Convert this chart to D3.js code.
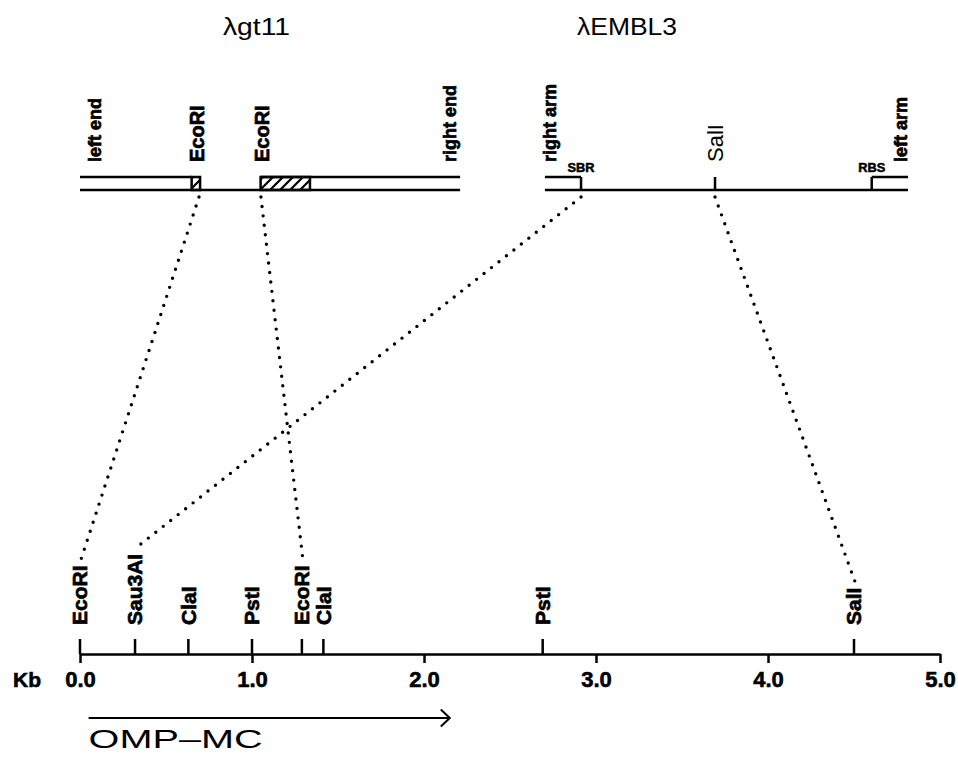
<!DOCTYPE html>
<html>
<head>
<meta charset="utf-8">
<script src="https://cdn.jsdelivr.net/npm/d3@7"></script>
<style>
  body { margin: 0; background: #fff; }
  svg { display: block; font-family: "Liberation Sans", Arial, sans-serif; }
</style>
</head>
<body>
<div id="chart"></div>
<script>
// restriction sites on the cloned fragment (kb)
const siteNames = ["EcoRI", "Sau3AI", "ClaI", "PstI", "EcoRI", "ClaI", "PstI", "SalI"];
const sitePositions = [0.0, 0.32, 0.63, 1.0, 1.29, 1.415, 2.69, 4.5];
const kbTicks = [0, 1, 2, 3, 4, 5];

// OMP-MC coding region (kb)
const ompRegion = [0.05, 2.15];

// vector maps, schematic positions on the same ruler
const gt11Span = [0, 2.21];
const gt11TopSegments = [[0, 0.649], [1.05, 2.21]];
const gt11Inserts = [[0.649, 0.698], [1.05, 1.337]];
const gt11LabelNames = ["left end", "EcoRI", "EcoRI", "right end"];
const gt11LabelPositions = [0.087, 0.678, 1.056, 2.15];

const emblSpan = [2.703, 4.814];
const emblTopSegments = [[2.703, 2.913], [4.603, 4.814]];
const emblSiteNames = ["SBR", "SalI", "RBS"];
const emblSitePositions = [2.913, 3.692, 4.603];
const emblLabelNames = ["right arm", "SalI", "left arm"];
const emblLabelPositions = [2.73, 3.692, 4.77];

// dotted correspondences: vector map position -> site index on the fragment
const linkFrom = [0.692, 1.052, 2.913, 3.692];
const linkTo = [0, 4, 1, 7];

const width = 958, height = 761;
const mapTopY = 177, mapBotY = 190;
const topLabelY = 162;
const axisY = 654;
const siteLabelY = 625;
const arrowY = 718;

const svg = d3.select("#chart").append("svg")
  .attr("width", width)
  .attr("height", height);

const x = d3.scaleLinear().domain([0, 5]).range([80, 940]);

const defs = svg.append("defs");
const hatch = defs.append("pattern")
  .attr("id", "hatch")
  .attr("patternUnits", "userSpaceOnUse")
  .attr("width", 10)
  .attr("height", 10);
hatch.append("path")
  .attr("d", "M-1,11L11,-1M-6,6L6,-6M4,16L16,4")
  .attr("stroke", "#000")
  .attr("stroke-width", 2.2);

// titles
svg.append("text")
  .attr("x", 223).attr("y", 35)
  .attr("font-size", 24)
  .attr("textLength", 67).attr("lengthAdjust", "spacingAndGlyphs")
  .text("λgt11");
svg.append("text")
  .attr("x", 577).attr("y", 35)
  .attr("font-size", 24)
  .attr("textLength", 100).attr("lengthAdjust", "spacingAndGlyphs")
  .text("λEMBL3");

const maps = svg.append("g")
  .attr("stroke", "#000")
  .attr("stroke-width", 2.5)
  .attr("fill", "none");

// lambda gt11
gt11TopSegments.forEach(s => {
  maps.append("line")
    .attr("x1", x(s[0])).attr("x2", x(s[1]))
    .attr("y1", mapTopY).attr("y2", mapTopY);
});
maps.append("line")
  .attr("x1", x(gt11Span[0])).attr("x2", x(gt11Span[1]))
  .attr("y1", mapBotY).attr("y2", mapBotY);
gt11Inserts.forEach(s => {
  maps.append("rect")
    .attr("x", x(s[0])).attr("width", x(s[1]) - x(s[0]))
    .attr("y", mapTopY).attr("height", mapBotY - mapTopY)
    .attr("fill", "url(#hatch)");
});

// lambda EMBL3
emblTopSegments.forEach(s => {
  maps.append("line")
    .attr("x1", x(s[0])).attr("x2", x(s[1]))
    .attr("y1", mapTopY).attr("y2", mapTopY);
});
maps.append("line")
  .attr("x1", x(emblSpan[0])).attr("x2", x(emblSpan[1]))
  .attr("y1", mapBotY).attr("y2", mapBotY);
emblSitePositions.forEach(p => {
  maps.append("line")
    .attr("x1", x(p)).attr("x2", x(p))
    .attr("y1", mapTopY).attr("y2", mapBotY);
});

// small SBR / RBS tags
svg.selectAll(".tag")
  .data(emblSiteNames.filter(n => n !== "SalI"))
  .enter().append("text")
  .attr("class", "tag")
  .attr("x", n => x(emblSitePositions[emblSiteNames.indexOf(n)]))
  .attr("y", 172)
  .attr("text-anchor", "middle")
  .attr("font-size", 12)
  .attr("font-weight", "bold")
  .attr("stroke", "#000").attr("stroke-width", 0.5)
  .attr("textLength", 27).attr("lengthAdjust", "spacingAndGlyphs")
  .text(n => n);

function vertLabel(g, px, py, txt, size, weight) {
  const t = g.append("text")
    .attr("transform", `translate(${px},${py}) rotate(-90)`)
    .attr("dy", "0.35em")
    .attr("font-size", size)
    .attr("font-weight", weight)
    .text(txt);
  if (weight === "bold") t.attr("stroke", "#000").attr("stroke-width", 0.7);
  return t;
}

const topLabels = svg.append("g");
gt11LabelNames.forEach((n, i) => {
  const isEnd = n.indexOf("end") >= 0;
  vertLabel(topLabels, x(gt11LabelPositions[i]), topLabelY, n, isEnd ? 18 : 20, "bold");
});
emblLabelNames.forEach((n, i) => {
  const isArm = n.indexOf("arm") >= 0;
  vertLabel(topLabels, x(emblLabelPositions[i]), topLabelY, n, isArm ? 18 : 22, isArm ? "bold" : "normal");
});

// fragment ruler
const axis = svg.append("g")
  .attr("transform", `translate(0,${axisY})`)
  .call(d3.axisBottom(x)
    .tickValues(kbTicks)
    .tickSize(9)
    .tickSizeOuter(0)
    .tickPadding(8)
    .tickFormat(d3.format(".1f")));
axis.attr("font-family", null);
axis.select(".domain").attr("stroke", "#000").attr("stroke-width", 2.5);
axis.selectAll(".tick line").attr("stroke", "#000").attr("stroke-width", 2.5);
axis.selectAll(".tick text")
  .attr("fill", "#000")
  .attr("stroke", "#000")
  .attr("stroke-width", 0.6)
  .attr("font-size", 22)
  .attr("font-weight", "bold");

svg.append("text")
  .attr("x", 13).attr("y", 687)
  .attr("font-size", 21)
  .attr("font-weight", "bold")
  .attr("stroke", "#000").attr("stroke-width", 0.6)
  .text("Kb");

svg.selectAll(".site")
  .data(sitePositions)
  .enter().append("line")
  .attr("class", "site")
  .attr("x1", d => x(d)).attr("x2", d => x(d))
  .attr("y1", axisY).attr("y2", axisY - 15)
  .attr("stroke", "#000")
  .attr("stroke-width", 2.5);

const siteLabels = svg.append("g");
const siteTexts = siteNames.map((n, i) =>
  vertLabel(siteLabels, x(sitePositions[i]), siteLabelY, n, 21, "bold"));

// dotted correspondences
linkFrom.forEach((p, i) => {
  const j = linkTo[i];
  const len = siteTexts[j].node().getComputedTextLength();
  svg.append("line")
    .attr("x1", x(p)).attr("y1", mapBotY + 7)
    .attr("x2", x(sitePositions[j]) + 1).attr("y2", siteLabelY - len - 6)
    .attr("stroke", "#000")
    .attr("stroke-width", 3.4)
    .attr("stroke-linecap", "round")
    .attr("stroke-dasharray", "0 9.5");
});

// OMP-MC arrow
const ax1 = x(ompRegion[0]), ax2 = x(ompRegion[1]);
svg.append("line")
  .attr("x1", ax1).attr("x2", ax2)
  .attr("y1", arrowY).attr("y2", arrowY)
  .attr("stroke", "#000").attr("stroke-width", 2);
svg.append("path")
  .attr("d", `M${ax2 - 9},${arrowY - 8.5}L${ax2},${arrowY}L${ax2 - 9},${arrowY + 8.5}`)
  .attr("fill", "none")
  .attr("stroke", "#000").attr("stroke-width", 2);
svg.append("text")
  .attr("x", ax1).attr("y", 748)
  .attr("font-size", 25)
  .attr("textLength", 174).attr("lengthAdjust", "spacingAndGlyphs")
  .text("OMP–MC");
</script>
</body>
</html>
